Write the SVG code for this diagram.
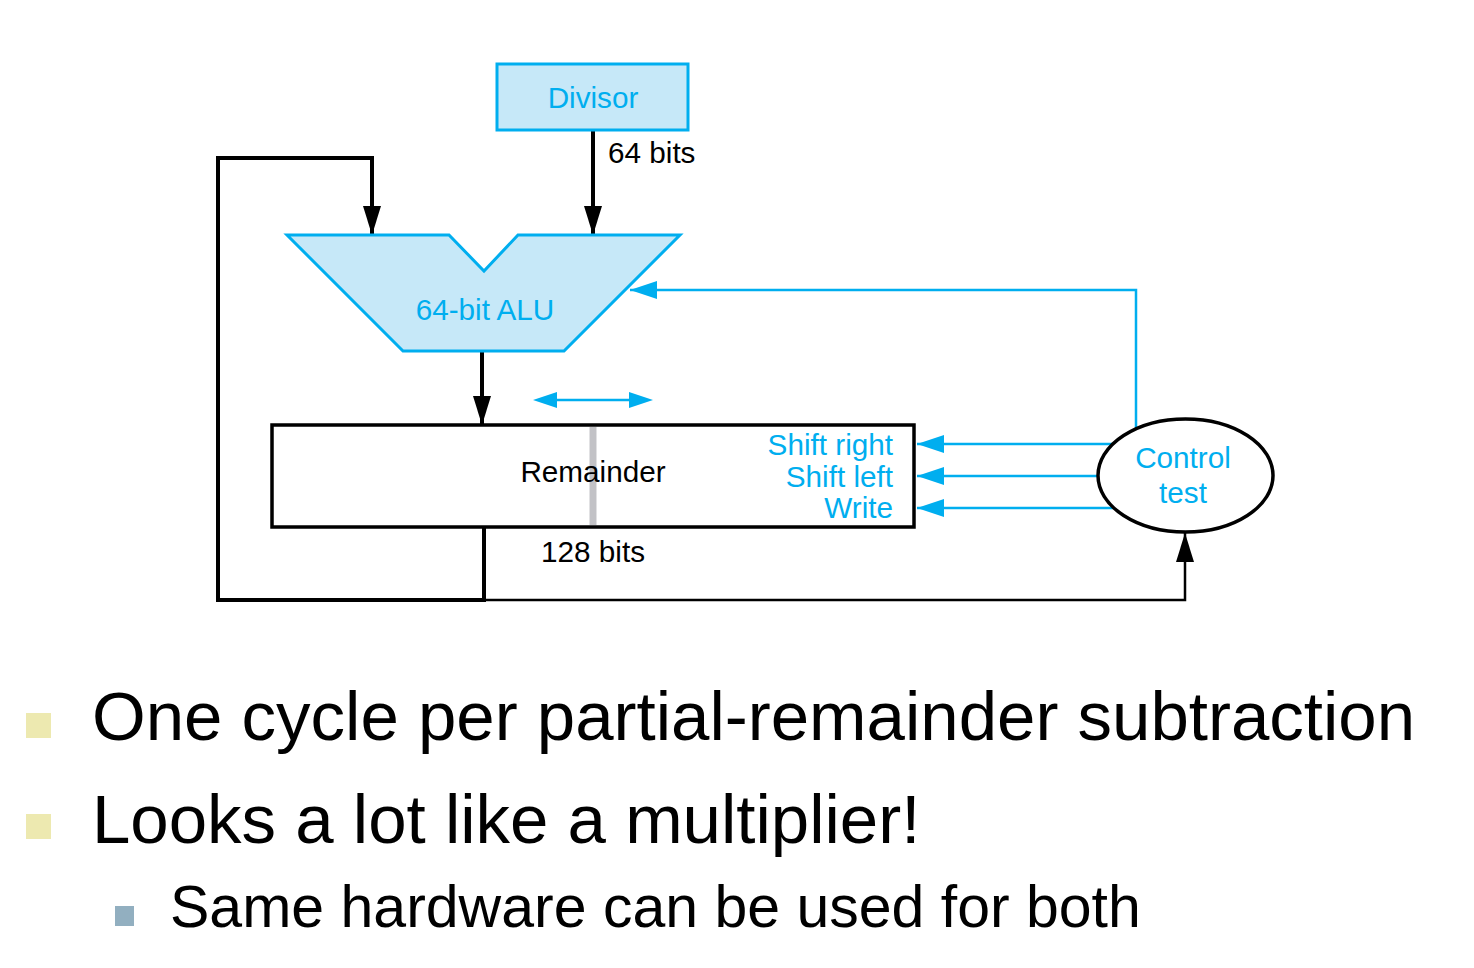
<svg xmlns="http://www.w3.org/2000/svg" width="1474" height="968" viewBox="0 0 1474 968">
<style>
.t{font-family:"Liberation Sans",Arial,sans-serif;}
.d{font-size:29.7px;}
.blue{fill:#00aeef;}
.blk{fill:#000;}
.cl{stroke:#00aeef;stroke-width:2.5;fill:none;}
.bl{stroke:#000;fill:none;}
</style>
<defs>
<marker id="ab" markerUnits="userSpaceOnUse" markerWidth="30" markerHeight="20" refX="29" refY="9" orient="auto"><path d="M0,0 L29,9 L0,18 z" fill="#000"/></marker>
<marker id="ac" markerUnits="userSpaceOnUse" markerWidth="30" markerHeight="20" refX="27" refY="9" orient="auto"><path d="M0,0 L27,9 L0,18 z" fill="#00aeef"/></marker>
</defs>
<rect width="1474" height="968" fill="#fff"/>
<g id="connectors">
<path class="bl" stroke-width="4" d="M593,131 V235" marker-end="url(#ab)"/>
<path class="bl" stroke-width="4" d="M484,527 V600 H218 V158 H372 V235" marker-end="url(#ab)"/>
<path class="bl" stroke-width="4" d="M482,351 V425" marker-end="url(#ab)"/>
<path class="bl" stroke-width="2.5" d="M484,600 H1185 V533" marker-end="url(#ab)"/>
<path class="cl" d="M1136,428 V290 H630" marker-end="url(#ac)"/>
<path class="cl" d="M1113,444 H917" marker-end="url(#ac)"/>
<path class="cl" d="M1098,476 H917" marker-end="url(#ac)"/>
<path class="cl" d="M1114,508 H917" marker-end="url(#ac)"/>
<path class="cl" d="M557,400 H629"/>
<path d="M533,400 L557,392 L557,408 z M653,400 L629,392 L629,408 z" fill="#00aeef"/>
</g>
<g id="divisor">
<rect x="497" y="64" width="191" height="66" fill="#c6e8f8" stroke="#00aeef" stroke-width="3"/>
<text class="t d blue" x="593" y="108" text-anchor="middle">Divisor</text>
</g>
<text class="t d blk" x="608" y="163">64 bits</text>
<g id="alu">
<polygon points="287,235 449,235 484,271 518,235 680,235 564,351 403,351" fill="#c6e8f8" stroke="#00aeef" stroke-width="3"/>
<text class="t d blue" x="485" y="320" text-anchor="middle">64-bit ALU</text>
</g>
<g id="remainder">
<rect x="272" y="425" width="642" height="102" fill="#fff" stroke="#000" stroke-width="3.5"/>
<line x1="593" y1="427" x2="593" y2="525" stroke="#c2c2c6" stroke-width="7"/>
<text class="t d blk" x="593" y="482" text-anchor="middle">Remainder</text>
<text class="t d blue" x="893" y="455" text-anchor="end">Shift right</text>
<text class="t d blue" x="893" y="487" text-anchor="end">Shift left</text>
<text class="t d blue" x="893" y="518" text-anchor="end">Write</text>
</g>
<text class="t d blk" x="541" y="562">128 bits</text>
<g id="control">
<ellipse cx="1185.5" cy="475.5" rx="87.5" ry="56.5" fill="#fff" stroke="#000" stroke-width="3.5"/>
<text class="t d blue" x="1183" y="468" text-anchor="middle">Control</text>
<text class="t d blue" x="1183" y="503" text-anchor="middle">test</text>
</g>
<g id="bullets">
<rect x="26" y="713" width="25" height="25" fill="#ede9b0"/>
<text class="t blk" x="92" y="740" font-size="69">One cycle per partial-remainder subtraction</text>
<rect x="26" y="814" width="25" height="25" fill="#ede9b0"/>
<text class="t blk" x="92" y="843" font-size="69">Looks a lot like a multiplier!</text>
<rect x="115" y="906" width="19" height="20" fill="#92afc0"/>
<text class="t blk" x="170" y="927" font-size="59">Same hardware can be used for both</text>
</g>
</svg>
